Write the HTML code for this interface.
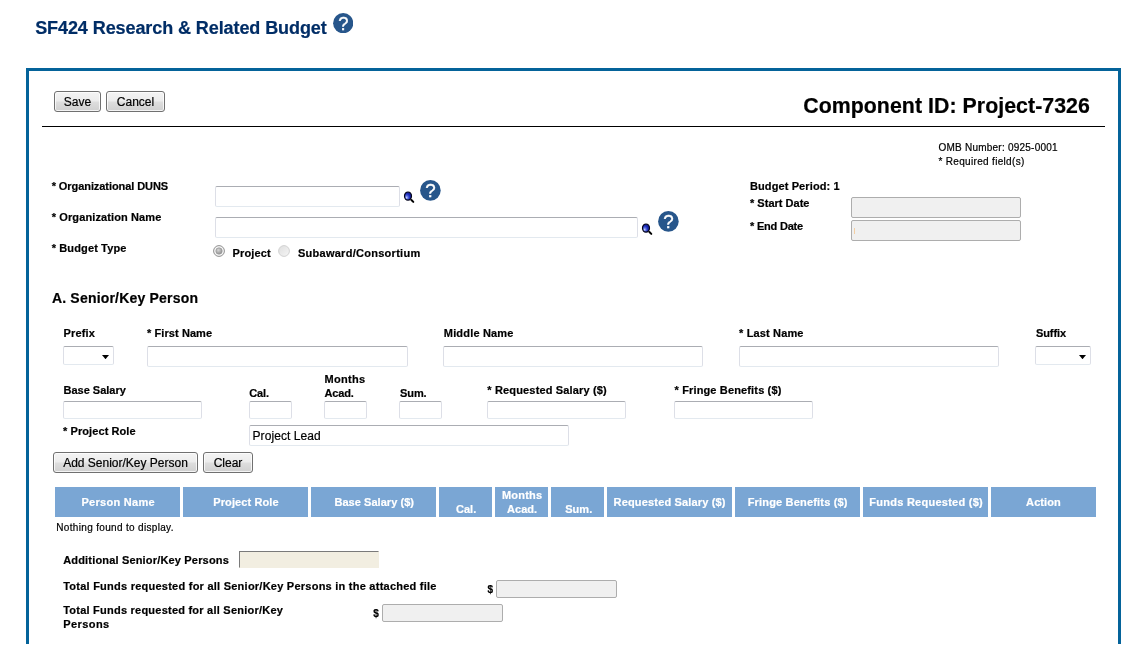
<!DOCTYPE html>
<html lang="en">
<head>
<meta charset="utf-8">
<title>SF424 Research &amp; Related Budget</title>
<style>
html,body{margin:0;padding:0;background:#fff;}
body{width:1144px;height:652px;position:relative;overflow:hidden;font-family:"Liberation Sans",Arial,sans-serif;color:#000;}
.t{position:absolute;white-space:pre;font-weight:700;-webkit-text-stroke:0.2px currentColor;}
.abs{position:absolute;}
/* panel frame */
.frame{position:absolute;left:26px;top:68px;width:1089px;height:573px;border:3px solid #04639a;border-bottom:none;}
.hr{position:absolute;left:42px;top:126px;width:1063px;height:1px;background:#000;}
/* buttons */
.btn{position:absolute;box-sizing:border-box;height:21px;border:1px solid #707070;border-radius:3px;
 background:linear-gradient(#f4f4f4 0,#ececec 48%,#dedede 52%,#d0d0d0 100%);box-shadow:inset 0 0 0 1px rgba(255,255,255,.75);
 font:400 12px/20px "Liberation Sans",Arial,sans-serif;text-align:center;color:#000;white-space:nowrap;-webkit-text-stroke:0.2px #000;}
/* inputs */
.in{position:absolute;box-sizing:border-box;background:#fff;border:1px solid #dddfe7;border-top-color:#abadb3;border-bottom-color:#e3e9ef;border-radius:2px;}
.dis{position:absolute;box-sizing:border-box;background:#f0f0f0;border:1px solid #adadad;border-radius:2px;}
.sel{position:absolute;box-sizing:border-box;background:#fff;border:1px solid #dddfe7;border-top-color:#abadb3;border-bottom-color:#e3e9ef;border-radius:2px;}
.sel svg{position:absolute;right:4px;top:8px;width:7px;height:4px;}
.inset{position:absolute;box-sizing:border-box;background:#f2eee1;border:1px solid #f2eee1;border-top-color:#7a7a7a;border-left-color:#7a7a7a;}
.th{position:absolute;top:487px;height:30px;background:#7aa6d4;}
.help{position:absolute;width:21px;height:21px;}
.mag{position:absolute;width:12px;height:13px;}
.radio{position:absolute;width:12px;height:12px;}
</style>
</head>
<body>
<div class="frame"></div>
<div class="hr"></div>

<div class="btn" style="left:54px;top:91px;width:47px;">Save</div>
<div class="btn" style="left:106px;top:91px;width:59px;">Cancel</div>

<!-- title help icon -->
<svg class="help" style="left:333.1px;top:12.8px;width:20.4px;height:20.4px" viewBox="0 0 21 21"><circle cx="10.5" cy="10.5" r="10.4" fill="#27568b"/><text x="10.6" y="17.6" text-anchor="middle" font-family="Liberation Sans, Arial, sans-serif" font-weight="400" font-size="19" fill="#fff" stroke="#fff" stroke-width="0.35">?</text></svg>

<!-- org rows -->
<div class="in" style="left:215px;top:186px;width:185px;height:21px"></div>
<svg class="mag" style="left:403px;top:190px;width:13px;height:14px" viewBox="0 0 13 14"><defs><radialGradient id="lg" cx="0.3" cy="0.68" r="0.75"><stop offset="0" stop-color="#c9d2ff"/><stop offset="0.28" stop-color="#5a6ee0"/><stop offset="0.6" stop-color="#1c2cc0"/><stop offset="1" stop-color="#101a80"/></radialGradient></defs><line x1="8.4" y1="10" x2="10.3" y2="11.9" stroke="#000" stroke-width="2" stroke-linecap="round"/><ellipse cx="5" cy="6.1" rx="3.5" ry="4.1" fill="url(#lg)" stroke="#05051a" stroke-width="1.2"/></svg>
<svg class="help" style="left:420.2px;top:179.8px;width:20.8px;height:20.8px" viewBox="0 0 21 21"><circle cx="10.5" cy="10.5" r="10.4" fill="#27568b"/><text x="10.6" y="17.6" text-anchor="middle" font-family="Liberation Sans, Arial, sans-serif" font-weight="400" font-size="19" fill="#fff" stroke="#fff" stroke-width="0.35">?</text></svg>

<div class="in" style="left:215px;top:217px;width:423px;height:21px"></div>
<svg class="mag" style="left:640.9px;top:221.9px;width:13px;height:14px" viewBox="0 0 13 14"><defs><radialGradient id="lg2" cx="0.3" cy="0.68" r="0.75"><stop offset="0" stop-color="#c9d2ff"/><stop offset="0.28" stop-color="#5a6ee0"/><stop offset="0.6" stop-color="#1c2cc0"/><stop offset="1" stop-color="#101a80"/></radialGradient></defs><line x1="8.4" y1="10" x2="10.3" y2="11.9" stroke="#000" stroke-width="2" stroke-linecap="round"/><ellipse cx="5" cy="6.1" rx="3.5" ry="4.1" fill="url(#lg2)" stroke="#05051a" stroke-width="1.2"/></svg>
<svg class="help" style="left:658.3px;top:210.8px;width:20.8px;height:20.8px" viewBox="0 0 21 21"><circle cx="10.5" cy="10.5" r="10.4" fill="#27568b"/><text x="10.6" y="17.6" text-anchor="middle" font-family="Liberation Sans, Arial, sans-serif" font-weight="400" font-size="19" fill="#fff" stroke="#fff" stroke-width="0.35">?</text></svg>

<!-- radios -->
<svg class="radio" style="left:213px;top:245px" viewBox="0 0 12 12"><defs><radialGradient id="rg" cx="0.4" cy="0.35" r="0.7"><stop offset="0" stop-color="#d6d6d6"/><stop offset="1" stop-color="#8c8c8c"/></radialGradient></defs><circle cx="6" cy="6" r="5.4" fill="#f6f6f6" stroke="#8e8e8e" stroke-width="1"/><circle cx="6" cy="6" r="3.2" fill="url(#rg)" stroke="#999" stroke-width="0.7"/></svg>
<svg class="radio" style="left:277.8px;top:245px" viewBox="0 0 12 12"><defs><linearGradient id="rg2" x1="0" y1="0" x2="1" y2="1"><stop offset="0" stop-color="#dedede"/><stop offset="1" stop-color="#f6f6f6"/></linearGradient></defs><circle cx="6" cy="6" r="5.4" fill="url(#rg2)" stroke="#d2d2d2" stroke-width="1"/></svg>

<!-- dates -->
<div class="dis" style="left:851px;top:197px;width:170px;height:21px"></div>
<div class="dis" style="left:851px;top:220px;width:170px;height:21px"></div>

<div class="abs" style="left:854px;top:228px;width:1px;height:6px;background:#f3cfa4"></div>

<!-- name row -->
<div class="sel" style="left:63px;top:346px;width:51px;height:19px"><svg viewBox="0 0 7 4"><polygon points="0,0 7,0 3.5,4.2" fill="#000"/></svg></div>
<div class="in" style="left:147px;top:346px;width:261px;height:21px"></div>
<div class="in" style="left:443px;top:346px;width:260px;height:21px"></div>
<div class="in" style="left:739px;top:346px;width:260px;height:21px"></div>
<div class="sel" style="left:1035px;top:346px;width:56px;height:19px"><svg viewBox="0 0 7 4"><polygon points="0,0 7,0 3.5,4.2" fill="#000"/></svg></div>

<!-- salary row -->
<div class="in" style="left:63px;top:401px;width:139px;height:18px"></div>
<div class="in" style="left:249px;top:401px;width:43px;height:18px"></div>
<div class="in" style="left:324px;top:401px;width:43px;height:18px"></div>
<div class="in" style="left:399px;top:401px;width:43px;height:18px"></div>
<div class="in" style="left:487px;top:401px;width:139px;height:18px"></div>
<div class="in" style="left:674px;top:401px;width:139px;height:18px"></div>

<!-- project role -->
<div class="in" style="left:249px;top:425px;width:320px;height:21px"></div>
<span class="t" style="left:252.5px;top:430.1px;font-size:12px;line-height:12px;font-weight:400;letter-spacing:0.08px">Project Lead</span>

<div class="btn" style="left:53px;top:452px;width:145px;">Add Senior/Key Person</div>
<div class="btn" style="left:203px;top:452px;width:50px;">Clear</div>

<!-- table header -->
<div class="th" style="left:55px;width:125px"></div>
<div class="th" style="left:183px;width:125px"></div>
<div class="th" style="left:311px;width:125px"></div>
<div class="th" style="left:439px;width:53px"></div>
<div class="th" style="left:495px;width:53px"></div>
<div class="th" style="left:551px;width:53px"></div>
<div class="th" style="left:607px;width:125px"></div>
<div class="th" style="left:735px;width:125px"></div>
<div class="th" style="left:863px;width:125px"></div>
<div class="th" style="left:991px;width:105px"></div>
<span class="t" style="left:81.5px;top:497.29px;font-size:11px;line-height:11px;color:#fff;letter-spacing:0.281px;">Person Name</span>
<span class="t" style="left:213.3px;top:497.29px;font-size:11px;line-height:11px;color:#fff;letter-spacing:0.101px;">Project Role</span>
<span class="t" style="left:334.4px;top:496.69px;font-size:11px;line-height:11px;color:#fff;letter-spacing:0.054px;">Base Salary ($)</span>
<span class="t" style="left:456.1px;top:503.69px;font-size:11px;line-height:11px;color:#fff;letter-spacing:-0.022px;">Cal.</span>
<span class="t" style="left:502.0px;top:489.69px;font-size:11px;line-height:11px;color:#fff;letter-spacing:0.182px;">Months</span>
<span class="t" style="left:507.0px;top:503.69px;font-size:11px;line-height:11px;color:#fff;letter-spacing:0.046px;">Acad.</span>
<span class="t" style="left:565.2px;top:503.69px;font-size:11px;line-height:11px;color:#fff;letter-spacing:0.048px;">Sum.</span>
<span class="t" style="left:613.6px;top:496.69px;font-size:11px;line-height:11px;color:#fff;letter-spacing:0.164px;">Requested Salary ($)</span>
<span class="t" style="left:747.7px;top:496.69px;font-size:11px;line-height:11px;color:#fff;letter-spacing:0.18px;">Fringe Benefits ($)</span>
<span class="t" style="left:869.3px;top:496.69px;font-size:11px;line-height:11px;color:#fff;letter-spacing:0.258px;">Funds Requested ($)</span>
<span class="t" style="left:1026.1px;top:496.69px;font-size:11px;line-height:11px;color:#fff;letter-spacing:0.094px;">Action</span>

<!-- bottom -->
<div class="inset" style="left:239px;top:551px;width:140px;height:17px"></div>
<div class="dis" style="left:496px;top:580px;width:121px;height:18px"></div>
<div class="dis" style="left:382px;top:604px;width:121px;height:18px"></div>

<span class="t" style="left:35.2px;top:18.76px;font-size:18px;line-height:18px;color:#002d66;letter-spacing:-0.084px;">SF424 Research &amp; Related Budget</span>
<span class="t" style="left:803.2px;top:95.84px;font-size:21.33px;line-height:21.33px;letter-spacing:0.042px;">Component ID: Project-7326</span>
<span class="t" style="left:938.5px;top:142.53px;font-size:10px;line-height:10px;font-weight:400;letter-spacing:0.228px;">OMB Number: 0925-0001</span>
<span class="t" style="left:938.5px;top:156.73px;font-size:10px;line-height:10px;font-weight:400;letter-spacing:0.319px;">* Required field(s)</span>
<span class="t" style="left:51.7px;top:180.79px;font-size:11px;line-height:11px;letter-spacing:-0.075px;">* Organizational DUNS</span>
<span class="t" style="left:51.7px;top:211.69px;font-size:11px;line-height:11px;letter-spacing:0.117px;">* Organization Name</span>
<span class="t" style="left:51.7px;top:242.59px;font-size:11px;line-height:11px;letter-spacing:0.128px;">* Budget Type</span>
<span class="t" style="left:750.0px;top:180.79px;font-size:11px;line-height:11px;letter-spacing:0.105px;">Budget Period: 1</span>
<span class="t" style="left:750.0px;top:197.79px;font-size:11px;line-height:11px;letter-spacing:0.017px;">* Start Date</span>
<span class="t" style="left:750.0px;top:220.89px;font-size:11px;line-height:11px;letter-spacing:-0.202px;">* End Date</span>
<span class="t" style="left:232.5px;top:247.79px;font-size:11px;line-height:11px;letter-spacing:0.158px;">Project</span>
<span class="t" style="left:297.9px;top:247.79px;font-size:11px;line-height:11px;letter-spacing:0.277px;">Subaward/Consortium</span>
<span class="t" style="left:51.9px;top:290.85px;font-size:14px;line-height:14px;letter-spacing:0.195px;">A. Senior/Key Person</span>
<span class="t" style="left:63.6px;top:327.59px;font-size:11px;line-height:11px;letter-spacing:0.154px;">Prefix</span>
<span class="t" style="left:147.0px;top:327.59px;font-size:11px;line-height:11px;letter-spacing:0.083px;">* First Name</span>
<span class="t" style="left:443.8px;top:327.59px;font-size:11px;line-height:11px;letter-spacing:0.176px;">Middle Name</span>
<span class="t" style="left:739.0px;top:327.59px;font-size:11px;line-height:11px;letter-spacing:0.147px;">* Last Name</span>
<span class="t" style="left:1036.0px;top:327.59px;font-size:11px;line-height:11px;letter-spacing:-0.11px;">Suffix</span>
<span class="t" style="left:63.5px;top:384.59px;font-size:11px;line-height:11px;letter-spacing:-0.008px;">Base Salary</span>
<span class="t" style="left:249.3px;top:387.69px;font-size:11px;line-height:11px;letter-spacing:-0.172px;">Cal.</span>
<span class="t" style="left:324.5px;top:373.79px;font-size:11px;line-height:11px;letter-spacing:0.282px;">Months</span>
<span class="t" style="left:324.5px;top:387.69px;font-size:11px;line-height:11px;letter-spacing:-0.174px;">Acad.</span>
<span class="t" style="left:400.0px;top:387.69px;font-size:11px;line-height:11px;letter-spacing:-0.077px;">Sum.</span>
<span class="t" style="left:487.3px;top:384.59px;font-size:11px;line-height:11px;letter-spacing:0.157px;">* Requested Salary ($)</span>
<span class="t" style="left:674.5px;top:384.59px;font-size:11px;line-height:11px;letter-spacing:0.147px;">* Fringe Benefits ($)</span>
<span class="t" style="left:63.0px;top:425.59px;font-size:11px;line-height:11px;letter-spacing:0.083px;">* Project Role</span>
<span class="t" style="left:56.3px;top:522.74px;font-size:10px;line-height:10px;font-weight:400;letter-spacing:0.326px;">Nothing found to display.</span>
<span class="t" style="left:63.2px;top:554.59px;font-size:11px;line-height:11px;letter-spacing:0.174px;">Additional Senior/Key Persons</span>
<span class="t" style="left:63.2px;top:581.09px;font-size:11px;line-height:11px;letter-spacing:0.243px;">Total Funds requested for all Senior/Key Persons in the attached file</span>
<span class="t" style="left:63.2px;top:604.99px;font-size:11px;line-height:11px;letter-spacing:0.231px;">Total Funds requested for all Senior/Key</span>
<span class="t" style="left:63.2px;top:618.69px;font-size:11px;line-height:11px;letter-spacing:0.44px;">Persons</span>
<span class="t" style="left:487.6px;top:584.74px;font-size:10px;line-height:10px;">$</span>
<span class="t" style="left:373.2px;top:608.53px;font-size:10px;line-height:10px;">$</span>
</body>
</html>
